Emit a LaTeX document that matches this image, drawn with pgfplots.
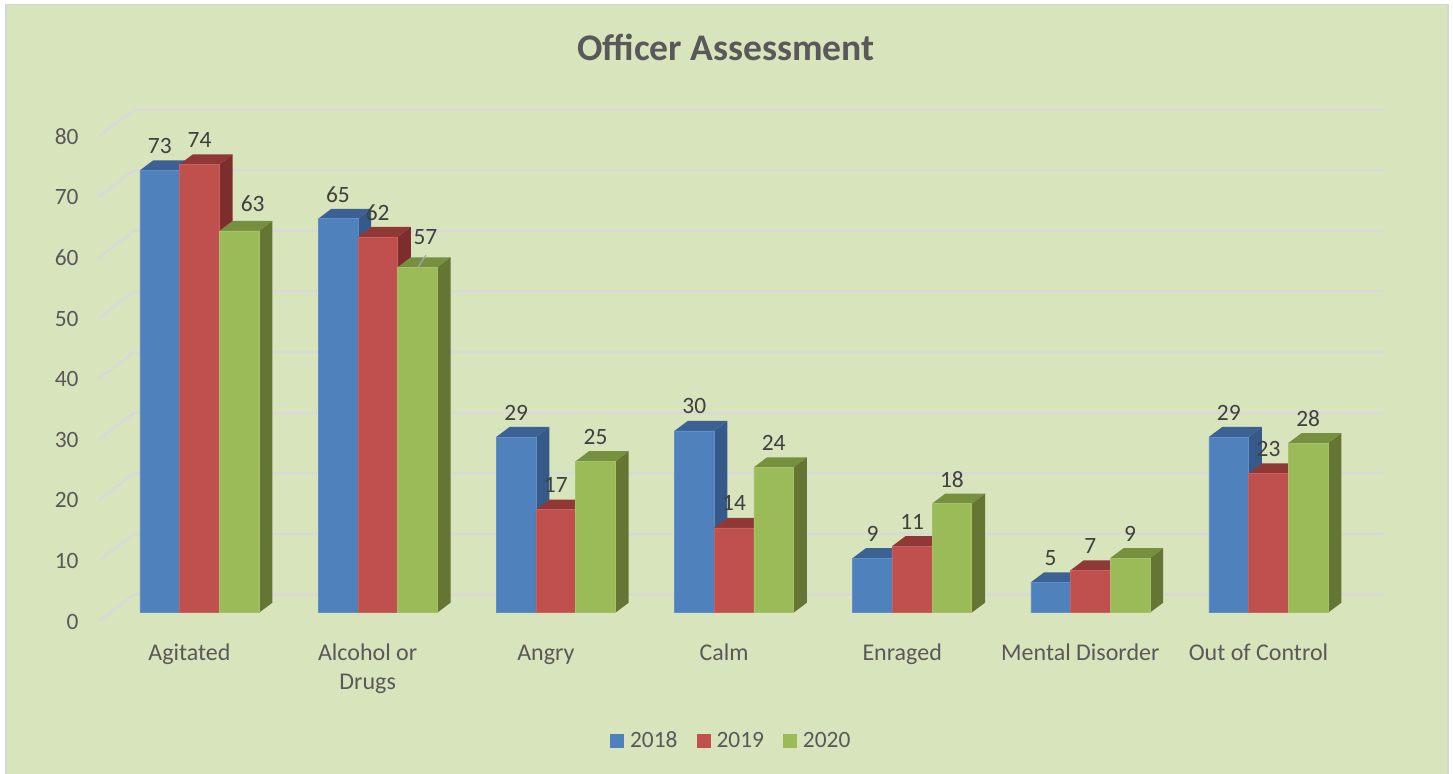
\documentclass[border=0pt]{standalone}
\usepackage{fontspec}
\setmainfont{Carlito}
\usepackage{pgfplots}
\usepackage{pgfplotstable}
\pgfplotsset{compat=1.18}
\definecolor{bg}{HTML}{D8E4BC}
\definecolor{frame}{HTML}{D6D6D6}
\definecolor{gridc}{HTML}{D9D9D9}
\definecolor{blueF}{HTML}{4F81BD}\definecolor{blueT}{HTML}{3C6194}\definecolor{blueS}{HTML}{355A8A}
\definecolor{redF}{HTML}{C0504D}\definecolor{redT}{HTML}{8F3836}\definecolor{redS}{HTML}{7D2E2C}
\definecolor{greenF}{HTML}{9BBB59}\definecolor{greenT}{HTML}{77903F}\definecolor{greenS}{HTML}{647534}
\definecolor{labc}{HTML}{404040}
\definecolor{tickc}{HTML}{595959}
\pgfplotstableread{
g y dx dy
0 73 0 12.25
1 65 0 12.25
2 29 0 12.25
3 30 0 12.25
4 9 0 12.25
5 5 0 12.25
6 29 0 12.25
}\tblA
\pgfplotstableread{
g y dx dy
0 74 0 12.25
1 62 0 12.25
2 17 0 12.25
3 14 0 12.25
4 11 0 12.25
5 7 0 12.25
6 23 0 12.25
}\tblB
\pgfplotstableread{
g y dx dy
0 63 6.75 13.65
1 57 4 15
2 25 0 12.25
3 24 0 12.25
4 18 0 12.25
5 9 0 12.25
6 28 0 12.25
}\tblC
% top and side faces of the 3-D columns of one series
\newcommand\faces[4]{%
  \pgfplotsinvokeforeach{0,...,6}{%
    \pgfplotstablegetelem{##1}{y}\of{#1}\let\vv\pgfplotsretval
    \pgfmathsetmacro\xl{##1+#2-0.1114}%
    \pgfmathsetmacro\xr{##1+#2+0.1114}%
    \pgfmathsetmacro\xlb{\xl+0.0746}%
    \pgfmathsetmacro\xrb{\xr+0.0746}%
    \pgfmathsetmacro\vb{\vv+1.65}%
    \edef\tmp{\noexpand\addplot[fill=#4,draw=none,forget plot] coordinates {(\xr,0)(\xrb,1.65)(\xrb,\vb)(\xr,\vv)(\xr,0)};
      \noexpand\addplot[fill=#3,draw=none,forget plot] coordinates {(\xl,\vv)(\xr,\vv)(\xrb,\vb)(\xlb,\vb)(\xl,\vv)};}%
    \tmp
  }%
}
\newcommand\front[3]{%
  \addplot[ybar,bar width=19.85pt,bar shift=#2,fill=#3,draw=#3!90!white,line width=.3pt,forget plot] table[x=g,y=y] {#1};%
}
\newcommand\labels[2]{%
  \addplot[draw=none,mark=none,forget plot,
    visualization depends on={\thisrow{dx}\as\ldx},
    visualization depends on={\thisrow{dy}\as\ldy},
    nodes near coords={\pgfmathprintnumber[assume math mode=true]{\pgfplotspointmeta}},
    nodes near coords style={anchor=center,inner sep=0pt,xshift=\ldx pt,yshift=\ldy pt,text=labc,font=\fontsize{11.7}{14}\selectfont}]
    table[x expr=\thisrow{g}+#2,y=y] {#1};%
}
\begin{document}
\begin{tikzpicture}
\path[use as bounding box] (0,0) rectangle (726.5pt,387pt);
\fill[white] (0,0) rectangle (726.5pt,387pt);
\fill[frame] (2.5pt,0) rectangle (724.5pt,385pt);
\fill[bg] (3.5pt,0) rectangle (723.5pt,384.5pt);
\begin{axis}[
  at={(49.5pt,80.65pt)},anchor=south west,
  scale only axis,width=642pt,height=242.4pt,
  xmin=-0.5641,xmax=6.6426,ymin=0,ymax=80,
  clip=false,
  axis line style={draw=none},
  tick style={draw=none},
  /pgf/number format/assume math mode=true,
  ytick={0,10,20,30,40,50,60,70,80},
  xtick={0,1,2,3,4,5,6},
  xticklabels={Agitated,{\rule{0pt}{10.2pt}Alcohol or\\Drugs},Angry,Calm,Enraged,Mental Disorder,Out of Control},
  x tick label style={align=center,anchor=north,inner sep=0pt,xshift=-5pt,yshift=-13.5pt,text=tickc,font=\fontsize{12}{14.5}\selectfont,execute at begin node=\strut},
  y tick label style={anchor=east,inner sep=0pt,xshift=-10pt,yshift=-4.4pt,text=tickc,font=\fontsize{11.7}{14}\selectfont},
  title={Officer Assessment},
  title style={at={(axis description cs:0.4883,1.142)},anchor=center,inner sep=0pt,text=tickc,font=\fontsize{18.8}{22}\bfseries\selectfont},
  legend style={at={(axis description cs:0.4932,-0.2646)},anchor=center,draw=none,fill=none,
    legend columns=3,font=\fontsize{11.7}{14}\selectfont,text=tickc,
    /tikz/every even column/.append style={column sep=7.5pt},
    /tikz/every odd column/.append style={column sep=1pt},
    inner sep=0pt},
  legend image code/.code={\fill[#1] (0pt,-3.5pt) rectangle (7pt,3.5pt);},
]
\addlegendimage{fill=blueF,draw=none}\addlegendentry{2018}
\addlegendimage{fill=redF,draw=none}\addlegendentry{2019}
\addlegendimage{fill=greenF,draw=none}\addlegendentry{2020}
% gridlines: front slant then back wall
\pgfplotsset{gl/.style={draw=gridc,line width=1.1pt,forget plot}}
\addplot[gl] coordinates {(-0.5641,-1.37)(-0.3676,3)(6.6426,3)};
\addplot[gl] coordinates {(-0.5641,8.63)(-0.3676,13)(6.6426,13)};
\addplot[gl] coordinates {(-0.5641,18.63)(-0.3676,23)(6.6426,23)};
\addplot[gl] coordinates {(-0.5641,28.63)(-0.3676,33)(6.6426,33)};
\addplot[gl] coordinates {(-0.5641,38.63)(-0.3676,43)(6.6426,43)};
\addplot[gl] coordinates {(-0.5641,48.63)(-0.3676,53)(6.6426,53)};
\addplot[gl] coordinates {(-0.5641,58.63)(-0.3676,63)(6.6426,63)};
\addplot[gl] coordinates {(-0.5641,68.63)(-0.3676,73)(6.6426,73)};
\addplot[gl] coordinates {(-0.5641,78.63)(-0.3676,83)(6.6426,83)};
\faces{\tblA}{-0.2228}{blueT}{blueS}
\front{\tblA}{-19.85pt}{blueF}
\faces{\tblB}{0}{redT}{redS}
\front{\tblB}{0pt}{redF}
\faces{\tblC}{0.2228}{greenT}{greenS}
\front{\tblC}{19.85pt}{greenF}
\addplot[draw=black!35,line width=.6pt,forget plot] coordinates {(1.2713,59.03)(1.2247,56.93)};
\labels{\tblA}{-0.2228}
\labels{\tblB}{0}
\labels{\tblC}{0.2228}
\end{axis}
\end{tikzpicture}
\end{document}
